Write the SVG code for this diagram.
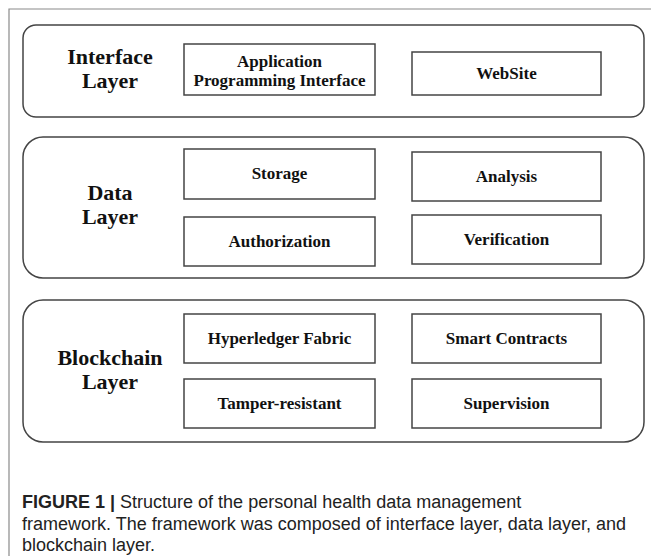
<svg xmlns="http://www.w3.org/2000/svg" width="651" height="556" viewBox="0 0 651 556">
<style>
.frame{fill:none;stroke:#8a8a8a;stroke-width:1.2}
.layer{fill:#fff;stroke:#444;stroke-width:1.5}
.box{fill:#fff;stroke:#444;stroke-width:1.5}
.lt{font-family:"Liberation Serif","Times New Roman",serif;font-weight:bold;font-size:22px;fill:#111;text-anchor:middle}
.bt{font-family:"Liberation Serif","Times New Roman",serif;font-weight:bold;font-size:17px;fill:#111;text-anchor:middle}
.cap{font-family:"Liberation Sans",Arial,sans-serif;font-size:18px;fill:#222}
</style>
<rect width="651" height="556" fill="#fff"/>
<path class="frame" d="M651,9 H9 V556"/>
<g id="interface-layer">
<rect class="layer" x="23" y="25" width="621" height="92" rx="13"/>
<text class="lt" x="110" y="64">Interface</text>
<text class="lt" x="110" y="88">Layer</text>
</g>
<g id="api">
<rect class="box" x="184" y="44" width="191" height="51"/>
<text class="bt" x="279.5" y="67">Application</text>
<text class="bt" x="279.5" y="86">Programming Interface</text>
</g>
<g id="website">
<rect class="box" x="412" y="52" width="189" height="43"/>
<text class="bt" x="506.5" y="79">WebSite</text>
</g>
<g id="data-layer">
<rect class="layer" x="23" y="137" width="621" height="141" rx="20"/>
<text class="lt" x="110" y="200">Data</text>
<text class="lt" x="110" y="224">Layer</text>
</g>
<g id="storage">
<rect class="box" x="184" y="149" width="191" height="50"/>
<text class="bt" x="279.5" y="179">Storage</text>
</g>
<g id="analysis">
<rect class="box" x="412" y="152" width="189" height="49"/>
<text class="bt" x="506.5" y="182">Analysis</text>
</g>
<g id="authorization">
<rect class="box" x="184" y="217" width="191" height="49"/>
<text class="bt" x="279.5" y="247">Authorization</text>
</g>
<g id="verification">
<rect class="box" x="412" y="215" width="189" height="49"/>
<text class="bt" x="506.5" y="245">Verification</text>
</g>
<g id="blockchain-layer">
<rect class="layer" x="23" y="300" width="621" height="142" rx="20"/>
<text class="lt" x="110" y="365">Blockchain</text>
<text class="lt" x="110" y="389">Layer</text>
</g>
<g id="hyperledger">
<rect class="box" x="184" y="314" width="191" height="49"/>
<text class="bt" x="279.5" y="344">Hyperledger Fabric</text>
</g>
<g id="smart-contracts">
<rect class="box" x="412" y="314" width="189" height="49"/>
<text class="bt" x="506.5" y="344">Smart Contracts</text>
</g>
<g id="tamper">
<rect class="box" x="184" y="379" width="191" height="49"/>
<text class="bt" x="279.5" y="409">Tamper-resistant</text>
</g>
<g id="supervision">
<rect class="box" x="412" y="379" width="189" height="49"/>
<text class="bt" x="506.5" y="409">Supervision</text>
</g>
<g id="connectors"></g>
<g id="caption">
<text class="cap" x="22" y="508"><tspan font-weight="bold">FIGURE 1 |</tspan> Structure of the personal health data management</text>
<text class="cap" x="22" y="530">framework. The framework was composed of interface layer, data layer, and</text>
<text class="cap" x="22" y="551">blockchain layer.</text>
</g>
</svg>
